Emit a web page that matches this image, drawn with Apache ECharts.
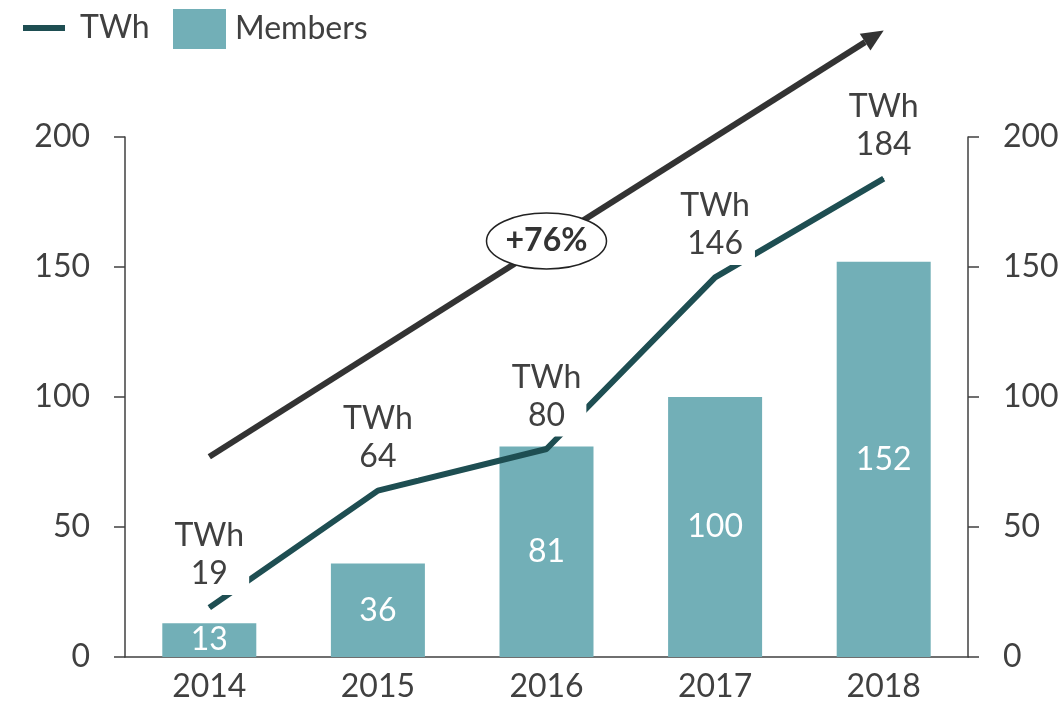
<!DOCTYPE html>
<html>
<head>
<meta charset="utf-8">
<script src="https://cdn.jsdelivr.net/npm/echarts@6/dist/echarts.min.js"></script>
<style>
  html, body { margin: 0; padding: 0; background: #fff; }
  #chart { width: 1063px; height: 703px; }
</style>
</head>
<body>
<div id="chart"></div>
<script>
// data
var years = ['2014', '2015', '2016', '2017', '2018'];
var twh = [19, 64, 80, 146, 184];
var members = [13, 36, 81, 100, 152];
var yTicks = [0, 50, 100, 150, 200];
// growth arrow + callout, in data units [category index, value]
var arrowFrom = [0, 77];
var arrowTo = [4, 241];
var growthLabel = '+76%';
var growthAt = [2, 160];

var FONT = 'Lato';
var TEXT = '#404040';
var AXIS = '#404040';
var BAR = '#72AFB7';
var LINE = '#1E4E52';

var chart = echarts.init(document.getElementById('chart'));

var yAxisBase = {
    type: 'value',
    min: yTicks[0],
    max: yTicks[yTicks.length - 1],
    interval: yTicks[1] - yTicks[0],
    axisLine: { show: true, lineStyle: { color: AXIS, width: 1.5 } },
    axisTick: { show: true, length: 11, lineStyle: { color: AXIS, width: 1.5 } },
    axisLabel: { color: TEXT, fontSize: 32, fontFamily: FONT, margin: 35 },
    splitLine: { show: false }
};

chart.setOption({
    animation: false,
    grid: { left: 125, right: 95, top: 137, bottom: 45 },
    legend: [
        {
            data: ['TWh'],
            left: 18,
            top: 7,
            icon: 'rect',
            itemWidth: 42,
            itemHeight: 6,
            textStyle: { color: TEXT, fontSize: 32, fontFamily: FONT, padding: [0, 0, 0, 10] }
        },
        {
            data: ['Members'],
            left: 168,
            top: 4,
            icon: 'rect',
            itemWidth: 53,
            itemHeight: 40,
            textStyle: { color: TEXT, fontSize: 32, fontFamily: FONT, padding: [0, 0, 0, 4] }
        }
    ],
    xAxis: {
        type: 'category',
        data: years,
        axisLine: { lineStyle: { color: AXIS, width: 1.5 } },
        axisTick: { show: false },
        axisLabel: { color: TEXT, fontSize: 32, fontFamily: FONT, margin: 14 }
    },
    yAxis: [
        Object.assign({}, yAxisBase, { position: 'left' }),
        Object.assign({}, yAxisBase, { position: 'right' })
    ],
    series: [
        {
            name: 'Members',
            type: 'bar',
            data: members,
            barWidth: 94,
            itemStyle: { color: BAR },
            label: {
                show: true,
                position: 'inside',
                color: '#fff',
                fontSize: 32,
                fontFamily: FONT
            },
            z: 2
        },
        {
            name: 'TWh',
            type: 'line',
            data: twh,
            symbol: 'circle',
            symbolSize: 1,
            showSymbol: true,
            lineStyle: { color: LINE, width: 6 },
            itemStyle: { color: LINE },
            label: {
                show: true,
                position: 'top',
                distance: 12,
                formatter: 'TWh\n{c}',
                color: TEXT,
                fontSize: 32,
                fontFamily: FONT,
                lineHeight: 38,
                backgroundColor: '#fff',
                padding: [0, 5, 2, 5]
            },
            labelLayout: { hideOverlap: false },
            z: 3
        }
    ]
});

// arrow and ellipse placed from data values
function px(p) {
    return chart.convertToPixel({ xAxisIndex: 0, yAxisIndex: 0 }, p);
}
var a = px(arrowFrom);
var b = px(arrowTo);
var ang = Math.atan2(b[1] - a[1], b[0] - a[0]);
var headLen = 22, headHalf = 10;
var base = [b[0] - headLen * Math.cos(ang), b[1] - headLen * Math.sin(ang)];
var nx = -Math.sin(ang), ny = Math.cos(ang);
var g = px(growthAt);

chart.setOption({
    graphic: [
        {
            type: 'line',
            z: 10,
            shape: { x1: a[0], y1: a[1], x2: base[0], y2: base[1] },
            style: { stroke: '#333', lineWidth: 6 }
        },
        {
            type: 'polygon',
            z: 10,
            shape: {
                points: [
                    [b[0], b[1]],
                    [base[0] + nx * headHalf, base[1] + ny * headHalf],
                    [base[0] - nx * headHalf, base[1] - ny * headHalf]
                ]
            },
            style: { fill: '#333' }
        },
        {
            type: 'ellipse',
            z: 11,
            shape: { cx: g[0], cy: g[1], rx: 60, ry: 28 },
            style: { fill: '#fff', stroke: '#222', lineWidth: 1.5 }
        },
        {
            type: 'text',
            z: 12,
            x: g[0],
            y: g[1],
            style: {
                text: growthLabel,
                fill: '#333',
                font: 'bold 32px ' + FONT,
                align: 'center',
                verticalAlign: 'middle'
            }
        }
    ]
});
</script>
</body>
</html>
